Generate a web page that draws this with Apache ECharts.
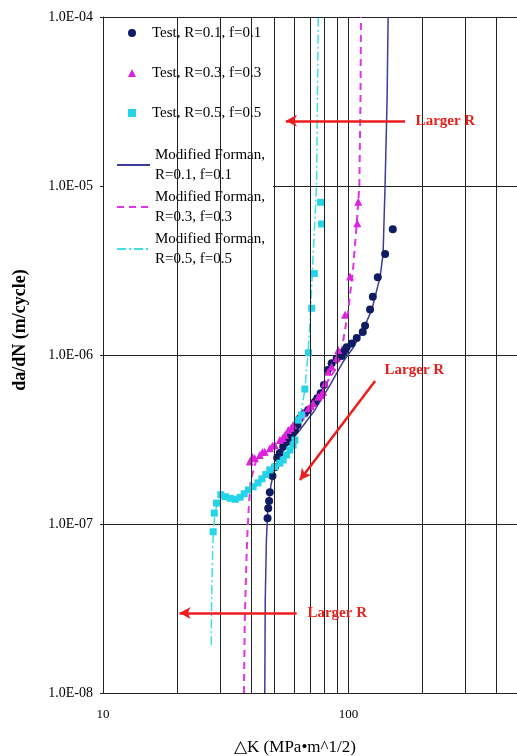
<!DOCTYPE html>
<html><head><meta charset="utf-8">
<script src="https://cdn.jsdelivr.net/npm/echarts@6/dist/echarts.min.js"></script>
<style>html,body{margin:0;padding:0;background:#fff}#c{width:517px;height:756px}</style>
</head><body><div id="c"></div>
<script>
// ---- data (ΔK in MPa·m^1/2, da/dN in m/cycle) ----
const testR01 = [[46.8,1.08e-7],[47.1,1.24e-7],[47.5,1.37e-7],[47.8,1.54e-7],[49.0,1.92e-7],[50.1,2.17e-7],[51.2,2.47e-7],[52.5,2.63e-7],[54.2,2.87e-7],[56.3,3.07e-7],[57.7,3.26e-7],[59.2,3.44e-7],[60.5,3.60e-7],[62.0,3.85e-7],[63.4,4.22e-7],[66.4,4.52e-7],[68.5,4.73e-7],[73.0,5.29e-7],[74.6,5.54e-7],[77.0,5.93e-7],[79.4,6.64e-7],[82.3,8.15e-7],[85.4,8.93e-7],[89.5,9.55e-7],[93.8,9.87e-7],[95.9,1.05e-6],[98.3,1.11e-6],[103.1,1.17e-6],[108.0,1.26e-6],[114.3,1.37e-6],[116.8,1.49e-6],[122.4,1.86e-6],[125.6,2.21e-6],[131.6,2.88e-6],[141.0,3.96e-6],[151.5,5.54e-6]];
const testR03 = [[39.6,2.34e-7],[40.6,2.49e-7],[41.5,2.45e-7],[43.5,2.56e-7],[44.6,2.67e-7],[45.6,2.68e-7],[47.8,2.81e-7],[49.0,2.90e-7],[50.1,2.93e-7],[52.5,3.14e-7],[54.0,3.23e-7],[55.1,3.36e-7],[56.8,3.60e-7],[58.3,3.70e-7],[59.5,3.85e-7],[62.4,4.22e-7],[64.0,4.36e-7],[65.4,4.52e-7],[68.5,4.84e-7],[70.3,4.99e-7],[71.8,5.18e-7],[75.3,5.67e-7],[77.2,5.80e-7],[78.9,6.07e-7],[80.2,6.81e-7],[82.7,7.96e-7],[85.4,8.53e-7],[89.5,9.60e-7],[90.9,1.07e-6],[96.8,1.73e-6],[101.4,2.91e-6],[108.6,6.02e-6],[109.6,8.07e-6]];
const testR05 = [[28.1,9.0e-8],[28.4,1.16e-7],[29.0,1.33e-7],[30.2,1.49e-7],[31.5,1.45e-7],[33.0,1.42e-7],[34.6,1.40e-7],[36.2,1.44e-7],[37.6,1.51e-7],[39.1,1.59e-7],[40.9,1.66e-7],[42.8,1.75e-7],[44.4,1.85e-7],[46.0,1.96e-7],[47.8,2.09e-7],[50.1,2.18e-7],[52.5,2.29e-7],[54.2,2.39e-7],[55.9,2.56e-7],[57.7,2.74e-7],[59.5,2.93e-7],[60.5,3.14e-7],[62.4,4.12e-7],[64.4,4.42e-7],[66.4,6.29e-7],[68.7,1.03e-6],[70.8,1.89e-6],[72.6,3.03e-6],[77.7,5.96e-6],[77.0,8.01e-6]];
const formanR01 = [[45.6,1e-8],[45.8,3.55e-8],[46.3,8.04e-8],[46.9,1.21e-7],[48.3,1.70e-7],[50.6,2.23e-7],[55.1,2.82e-7],[63.4,3.60e-7],[73.0,4.73e-7],[84.1,6.64e-7],[95.0,9.10e-7],[104.3,1.10e-6],[114.6,1.41e-6],[124.4,1.85e-6],[134.5,2.90e-6],[138.3,3.96e-6],[140.9,1e-5],[143.6,3.23e-5],[145.0,1e-4]];
const formanR03 = [[37.5,1e-8],[37.8,2.70e-8],[38.4,6.12e-8],[38.8,9.21e-8],[39.3,1.30e-7],[40.0,1.82e-7],[41.9,2.33e-7],[45.6,2.67e-7],[52.5,3.14e-7],[63.4,4.23e-7],[76.5,5.96e-7],[88.1,8.15e-7],[94.1,1.10e-6],[99.8,1.85e-6],[104.3,3.18e-6],[108.3,6.29e-6],[110.7,1e-5],[111.9,3.23e-5],[112.4,1e-4]];
const formanR05 = [[27.6,1.92e-8],[27.7,3.55e-8],[28.0,7.51e-8],[28.5,1.13e-7],[29.3,1.35e-7],[30.7,1.46e-7],[33.5,1.43e-7],[36.8,1.46e-7],[40.4,1.66e-7],[45.6,1.98e-7],[52.5,2.33e-7],[58.8,2.93e-7],[63.4,4.12e-7],[66.4,6.21e-7],[68.5,1.04e-6],[70.1,1.85e-6],[71.6,3.65e-6],[74.1,1e-5],[75.3,1e-4]];
const minorXGrid = [20,30,40,50,60,70,80,90,200,300,400,500,600,700,800,900];
const xTickLabels = {10:'10',100:'100',1000:'1000'};
const yTickLabels = {'-8':'1.0E-08','-7':'1.0E-07','-6':'1.0E-06','-5':'1.0E-05','-4':'1.0E-04'};
// annotation arrows: [from, to] in data coords, and label anchors
const arrows = [
  [[170,2.43e-5],[55.6,2.43e-5]],
  [[128.3,7.02e-7],[63.4,1.82e-7]],
  [[61.5,2.97e-8],[20.5,2.97e-8]]
];
const arrowLabels = [[186.8,2.43e-5],[139.6,8.15e-7],[67.7,2.97e-8]];
const arrowText = 'Larger R';

const names = ['Test, R=0.1, f=0.1','Test, R=0.3, f=0.3','Test, R=0.5, f=0.5',
  'Modified Forman,\nR=0.1, f=0.1','Modified Forman,\nR=0.3, f=0.3','Modified Forman,\nR=0.5, f=0.5'];

const SERIF = 'Liberation Serif, Times New Roman, serif';
const chart = echarts.init(document.getElementById('c'), null, {renderer:'canvas'});
chart.setOption({
  animation:false,
  backgroundColor:'#fff',
  grid:{left:103, width:491, top:17, bottom:63, containLabel:false, outerBoundsMode:'none'},
  xAxis:{type:'log', logBase:10, min:10, max:1000,
    name:'\u25B3K (MPa\u2022m^1/2)', nameLocation:'middle', nameGap:46,
    nameTextStyle:{fontFamily:SERIF, fontSize:17, color:'#000', padding:[0,107,0,0]},
    axisLine:{show:true, lineStyle:{color:'#222', width:1}},
    axisTick:{show:false},
    axisLabel:{margin:15, fontFamily:SERIF, fontSize:13, color:'#000',
      formatter:v=>xTickLabels[Math.round(v)]||''},
    splitLine:{show:true, lineStyle:{color:'#222', width:1}}
  },
  yAxis:{type:'log', logBase:10, min:1e-8, max:1e-4,
    name:'da/dN (m/cycle)', nameLocation:'middle', nameGap:74,
    nameTextStyle:{fontFamily:SERIF, fontSize:18, fontWeight:'bold', color:'#000', padding:[0,0,0,50]},
    axisLine:{show:true, lineStyle:{color:'#222', width:1}},
    axisTick:{show:true, length:3, lineStyle:{color:'#222'}},
    axisLabel:{margin:10, fontFamily:SERIF, fontSize:14, color:'#000',
      formatter:v=>yTickLabels[String(Math.round(Math.log10(v)))]||''},
    splitLine:{show:true, lineStyle:{color:'#222', width:1}}
  },
  legend:[
    {data:names.slice(0,3), orient:'vertical', left:128, top:23, padding:0, itemGap:20, z:6,
     itemWidth:8, itemHeight:8, textStyle:{fontFamily:SERIF, fontSize:15, color:'#000', lineHeight:20, padding:[0,0,0,11]}},
    {data:names.slice(3), orient:'vertical', left:104, top:18, padding:[127,8,0,12], itemGap:2, z:5,
     backgroundColor:'#fff',
     itemWidth:33, itemHeight:8, itemStyle:{color:'rgba(0,0,0,0)', opacity:0, borderWidth:0},
     textStyle:{fontFamily:SERIF, fontSize:15, color:'#000', lineHeight:20}}
  ],
  series:[
    {name:'grid', type:'line', data:[], z:1, silent:true,
     markLine:{silent:true, symbol:['none','none'], label:{show:false},
       lineStyle:{color:'#222', width:1, type:'solid'},
       data:minorXGrid.map(v=>({xAxis:v}))}},
    {name:names[3], type:'line', data:formanR01, symbol:'none', z:2,
     lineStyle:{color:'#3b3b9a', width:1.5}, itemStyle:{color:'#3b3b9a'}},
    {name:names[4], type:'line', data:formanR03, symbol:'none', z:2,
     lineStyle:{color:'#e035e0', width:2, type:[7,5]}, itemStyle:{color:'#e035e0'}},
    {name:names[5], type:'line', data:formanR05, symbol:'none', z:2,
     lineStyle:{color:'#3fe0e0', width:1.5, type:[9,3,2,3]}, itemStyle:{color:'#3fe0e0'}},
    {name:names[0], type:'scatter', data:testR01, symbol:'circle', symbolSize:8, z:3,
     itemStyle:{color:'#101c62', opacity:1}},
    {name:names[1], type:'scatter', data:testR03, symbol:'triangle', symbolSize:8, z:3,
     itemStyle:{color:'#dd22dd', opacity:1}},
    {name:names[2], type:'scatter', data:testR05, symbol:'rect', symbolSize:7, z:3,
     itemStyle:{color:'#25d4e8', opacity:1}},
    {name:'annot', type:'line', data:[], z:5, silent:true,
     markLine:{silent:true, symbol:['none','arrow'], symbolSize:[9,11], label:{show:false},
       lineStyle:{color:'#ee1c1c', width:2.5, type:'solid'},
       data:arrows.map(a=>[{coord:a[0]},{coord:a[1]}])},
     markPoint:{silent:true, symbol:'circle', symbolSize:1, itemStyle:{color:'rgba(0,0,0,0)'},
       label:{show:true, position:'right', distance:0, formatter:arrowText,
         fontFamily:SERIF, fontSize:15, fontWeight:'bold', color:'#e8201c'},
       data:arrowLabels.map(c=>({coord:c}))}}
  ]
});
</script></body></html>
